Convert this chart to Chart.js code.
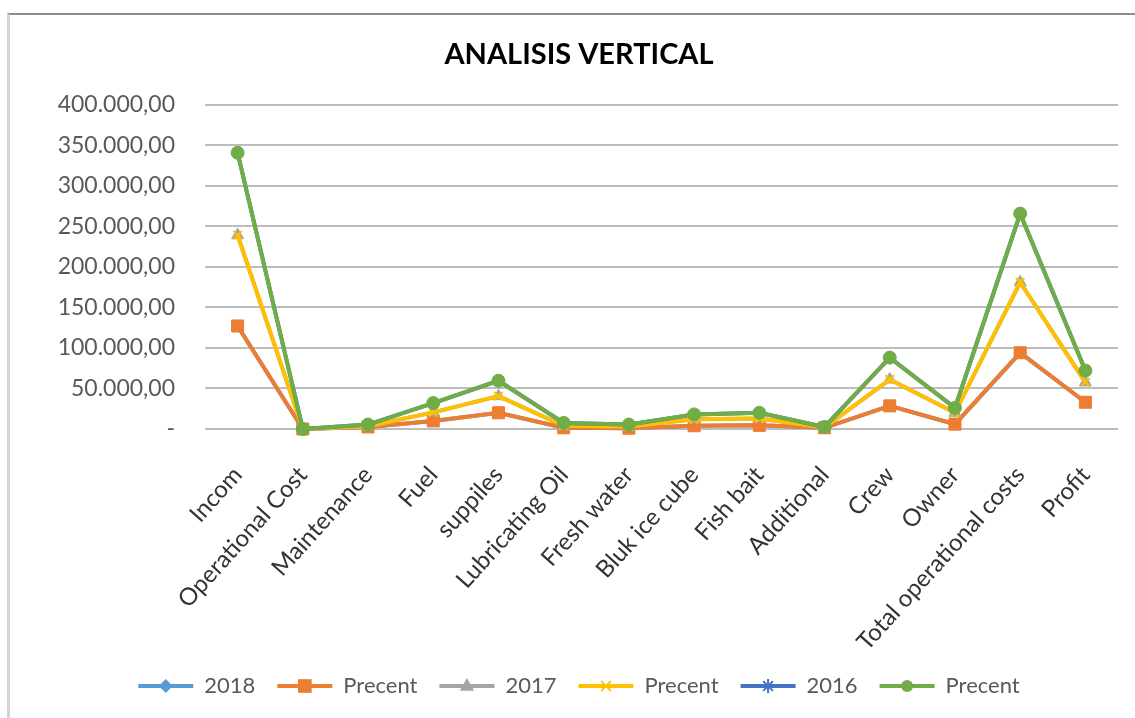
<!DOCTYPE html>
<html>
<head>
<meta charset="utf-8">
<script src="https://cdn.jsdelivr.net/npm/chart.js@4/dist/chart.umd.min.js"></script>
<style>
    html, body { margin: 0; padding: 0; background: #fff; }
    #wrap { position: relative; width: 1135px; height: 718px; overflow: hidden; }
    #frame {
        position: absolute; left: 7px; top: 13px; width: 1200px; height: 800px;
        border-top: 2px solid #8c8c8c; border-left: 3px solid #d6d6d6;
    }
    #chart { position: absolute; left: 0; top: 0; }
</style>
</head>
<body>
<div id="wrap">
    <div id="frame"></div>
    <canvas id="chart" width="1135" height="718"></canvas>
</div>
<script>
// Categories
const categories = ['Incom', 'Operational Cost', 'Maintenance', 'Fuel', 'suppiles', 'Lubricating Oil',
    'Fresh water', 'Bluk ice cube', 'Fish bait', 'Additional', 'Crew', 'Owner',
    'Total operational costs', 'Profit'];

// Series values (stacked line, as in the Excel chart)
const values2018 = [127000, 0, 2500, 10000, 20000, 1500, 1000, 4000, 4500, 1500, 28500, 6000, 94000, 33000];
const percent2018 = [100, 0, 2, 8, 16, 1, 1, 3, 4, 1, 22, 5, 74, 26];
const values2017 = [112000, 0, 1000, 10500, 20500, 2500, 2000, 8000, 8500, 500, 32500, 14000, 87000, 24500];
const percent2017 = [100, 0, 1, 9, 18, 2, 2, 7, 8, 0, 29, 13, 78, 22];
const values2016 = [101500, 0, 2000, 11500, 19000, 3500, 2500, 6000, 7000, 500, 27000, 6000, 84500, 14500];
const percent2016 = [100, 0, 2, 11, 19, 3, 2, 6, 7, 0, 27, 6, 83, 14];

// Y axis ticks
const yTicks = [0, 50000, 100000, 150000, 200000, 250000, 300000, 350000, 400000];

const FONT = 'Lato, "Open Sans", sans-serif';

function fmt(v) {
    if (v === 0) return '-';
    return String(v).replace(/\B(?=(\d{3})+(?!\d))/g, '.') + ',00';
}

function serie(label, data, color, style, radius) {
    return {
        label: label,
        data: data,
        borderColor: color,
        backgroundColor: color,
        borderWidth: 4,
        pointStyle: style,
        pointRadius: radius,
        pointBorderWidth: style === 'crossRot' || style === 'star' ? 2 : 1,
        pointBorderColor: color,
        pointBackgroundColor: color,
        tension: 0
    };
}

const datasets = [
    serie('2018', values2018, '#5B9BD5', 'rectRot', 6),
    serie('Precent', percent2018, '#ED7D31', 'rect', 8.5),
    serie('2017', values2017, '#A5A5A5', 'triangle', 7),
    serie('Precent', percent2017, '#FFC000', 'crossRot', 6),
    serie('2016', values2016, '#4472C4', 'star', 6),
    serie('Precent', percent2016, '#70AD47', 'circle', 6.5)
];

// Excel dessine la première série en dessous : on inverse l'ordre de dessin
let drawingInOrder = false;
const excelOrder = {
    id: 'excelOrder',
    beforeDatasetDraw() {
        if (!drawingInOrder) return false;
    },
    afterDatasetsDraw(chart) {
        drawingInOrder = true;
        const area = chart.chartArea;
        const ctx = chart.ctx;
        for (let i = 0; i < chart.data.datasets.length; i++) {
            const meta = chart.getDatasetMeta(i);
            ctx.save();
            ctx.beginPath();
            ctx.rect(area.left - 20, area.top - 20, area.right - area.left + 40, area.bottom - area.top + 40);
            ctx.clip();
            meta.controller.draw();
            ctx.restore();
        }
        drawingInOrder = false;
    }
};

function marker(ctx, style, x, y, r) {
    ctx.beginPath();
    if (style === 'rectRot') {
        ctx.moveTo(x, y - r); ctx.lineTo(x + r, y); ctx.lineTo(x, y + r); ctx.lineTo(x - r, y);
        ctx.closePath(); ctx.fill();
    } else if (style === 'rect') {
        const s = r * 0.72;
        ctx.rect(x - s, y - s, 2 * s, 2 * s); ctx.fill();
    } else if (style === 'triangle') {
        ctx.moveTo(x, y - r); ctx.lineTo(x + r * 0.9, y + r * 0.6); ctx.lineTo(x - r * 0.9, y + r * 0.6);
        ctx.closePath(); ctx.fill();
    } else if (style === 'crossRot') {
        const s = r * 0.7;
        ctx.moveTo(x - s, y - s); ctx.lineTo(x + s, y + s);
        ctx.moveTo(x + s, y - s); ctx.lineTo(x - s, y + s);
        ctx.stroke();
    } else if (style === 'star') {
        const s = r * 0.7;
        ctx.moveTo(x - s, y - s); ctx.lineTo(x + s, y + s);
        ctx.moveTo(x + s, y - s); ctx.lineTo(x - s, y + s);
        ctx.moveTo(x, y - r); ctx.lineTo(x, y + r);
        ctx.stroke();
    } else {
        ctx.arc(x, y, r * 0.8, 0, Math.PI * 2); ctx.fill();
    }
}

// marqueurs par-dessus les traits de la légende
const legendMarkers = {
    id: 'legendMarkers',
    afterDraw(chart) {
        const legend = chart.legend;
        if (!legend || !legend.legendHitBoxes) return;
        const ctx = chart.ctx;
        const boxW = legend.options.labels.boxWidth;
        legend.legendItems.forEach((item, i) => {
            const hb = legend.legendHitBoxes[i];
            const ds = chart.data.datasets[item.datasetIndex];
            ctx.save();
            ctx.fillStyle = ds.pointBackgroundColor;
            ctx.strokeStyle = ds.pointBorderColor;
            ctx.lineWidth = 2;
            marker(ctx, ds.pointStyle, hb.left + boxW / 2, hb.top + hb.height / 2, ds.pointRadius + 1);
            ctx.restore();
        });
    }
};

new Chart(document.getElementById('chart'), {
    type: 'line',
    data: { labels: categories, datasets: datasets },
    plugins: [excelOrder, legendMarkers],
    options: {
        responsive: false,
        animation: false,
        devicePixelRatio: 1,
        layout: { padding: { left: 40, right: 17, top: 37, bottom: 11 } },
        plugins: {
            title: {
                display: true,
                text: 'ANALISIS VERTICAL',
                color: '#000',
                font: { family: FONT, size: 29, weight: 'bold' },
                padding: { top: 0, bottom: 33 }
            },
            legend: {
                position: 'bottom',
                labels: {
                    color: '#595959',
                    font: { family: FONT, size: 22 },
                    boxWidth: 55,
                    boxHeight: 4,
                    padding: 22,
                    generateLabels(chart) {
                        const items = Chart.defaults.plugins.legend.labels.generateLabels(chart);
                        items.forEach(it => { it.lineWidth = 0; });
                        return items;
                    }
                }
            },
            tooltip: { enabled: false }
        },
        scales: {
            x: {
                offset: true,
                grid: { display: false },
                border: { display: false },
                ticks: {
                    color: '#333333',
                    font: { family: FONT, size: 24 },
                    minRotation: 48,
                    maxRotation: 48,
                    autoSkip: false,
                    padding: 24
                },
                afterFit(scale) { scale.height = 224; }
            },
            y: {
                stacked: true,
                min: 0,
                max: 400000,
                afterBuildTicks(scale) { scale.ticks = yTicks.map(v => ({ value: v })); },
                grid: { color: '#BDBDBD', lineWidth: 2, drawTicks: false },
                border: { display: false },
                ticks: {
                    color: '#595959',
                    font: { family: FONT, size: 23 },
                    padding: 30,
                    callback: v => fmt(v)
                },
                afterFit(scale) { scale.width = 165; }
            }
        }
    }
});
</script>
</body>
</html>
